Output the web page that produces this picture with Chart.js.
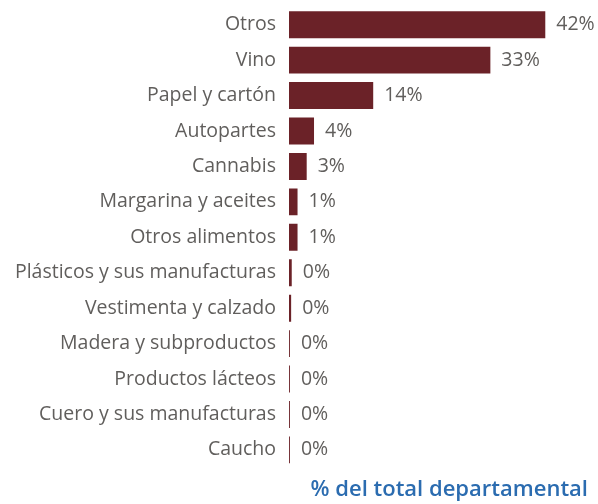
<!DOCTYPE html>
<html>
<head>
<meta charset="utf-8">
<script src="https://cdn.jsdelivr.net/npm/chart.js@4"></script>
<style>
  html, body { margin: 0; padding: 0; background: #fff; }
  #wrap { width: 598px; height: 504px; }
</style>
</head>
<body>
<div id="wrap"><canvas id="chart" width="598" height="504"></canvas></div>
<script>
const categories = [
  'Otros', 'Vino', 'Papel y cartón', 'Autopartes', 'Cannabis',
  'Margarina y aceites', 'Otros alimentos', 'Plásticos y sus manufacturas',
  'Vestimenta y calzado', 'Madera y subproductos', 'Productos lácteos',
  'Cuero y sus manufacturas', 'Caucho'
];
const shares = [42.0, 33.0, 13.8, 4.1, 2.9, 1.4, 1.4, 0.45, 0.35, 0.15, 0.15, 0.15, 0.15];
const titleText = '% del total departamental';

const textGray = '#605e5c';
const barColor = '#6b2228';
const fontFamily = '"Open Sans", "Noto Sans", sans-serif';

// draws the "42%" style labels right of each bar
const valueLabels = {
  id: 'valueLabels',
  afterDatasetsDraw(chart) {
    const ctx = chart.ctx;
    const meta = chart.getDatasetMeta(0);
    ctx.save();
    ctx.font = '19.5px ' + fontFamily;
    ctx.fillStyle = textGray;
    ctx.textAlign = 'left';
    ctx.textBaseline = 'middle';
    meta.data.forEach((bar, i) => {
      ctx.fillText(Math.round(shares[i]) + '%', bar.x + 11, bar.y);
    });
    ctx.restore();
  }
};

new Chart(document.getElementById('chart'), {
  type: 'bar',
  data: {
    labels: categories,
    datasets: [{
      data: shares,
      backgroundColor: barColor,
      borderWidth: 0,
      categoryPercentage: 1,
      barPercentage: 0.76
    }]
  },
  options: {
    indexAxis: 'y',
    responsive: false,
    animation: false,
    layout: { padding: { top: 7, right: 10, bottom: 0, left: 0 } },
    plugins: {
      legend: { display: false },
      tooltip: { enabled: false },
      title: {
        display: true,
        text: titleText,
        position: 'bottom',
        align: 'end',
        color: '#2b6cb0',
        font: { family: fontFamily, size: 22, weight: '600' },
        padding: { top: 9, bottom: 1 }
      }
    },
    scales: {
      x: {
        display: false,
        min: 0,
        max: 49
      },
      y: {
        grid: { display: false, drawTicks: false },
        border: { display: false },
        ticks: {
          color: textGray,
          padding: 13,
          font: { family: fontFamily, size: 19.5 }
        },
        afterFit(scale) {
          scale.width = 289;
          scale.paddingTop = 0;
          scale.paddingBottom = 0;
        }
      }
    }
  },
  plugins: [valueLabels]
});
</script>
</body>
</html>
